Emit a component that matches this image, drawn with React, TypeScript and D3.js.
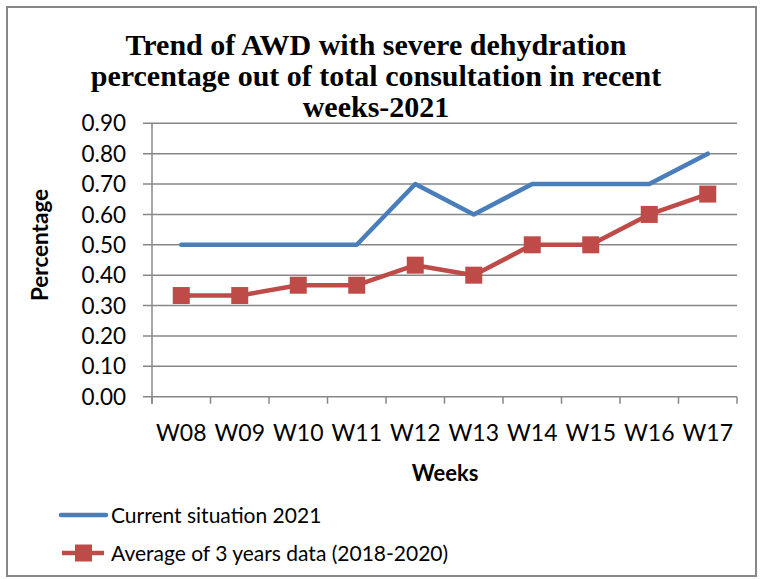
import * as d3 from 'd3';
import React from 'react';

const weeks = ['W08', 'W09', 'W10', 'W11', 'W12', 'W13', 'W14', 'W15', 'W16', 'W17'];
const current2021 = [0.5, 0.5, 0.5, 0.5, 0.7, 0.6, 0.7, 0.7, 0.7, 0.8];
const avg3Years = [0.333, 0.333, 0.367, 0.367, 0.433, 0.4, 0.5, 0.5, 0.6, 0.667];
const yTicks = [0, 0.1, 0.2, 0.3, 0.4, 0.5, 0.6, 0.7, 0.8, 0.9];
const titleLines = [
    'Trend of AWD with severe dehydration',
    'percentage out of total consultation in recent',
    'weeks-2021',
];
const seriesNames = ['Current situation 2021', 'Average of 3 years data (2018-2020)'];

const blue = '#4a7ebb';
const red = '#be4b48';
const grid = '#878787';
const sans = 'Lato, "Open Sans", sans-serif';

export default function App() {
    // positions and dimensions
    const width = 762;
    const height = 579;
    const plot = { left: 152, right: 737, top: 123.3, bottom: 396.7 };

    const xrange = d3.scaleBand<string>()
        .domain(weeks)
        .range([plot.left, plot.right]);

    const yrange = d3.scaleLinear()
        .domain([0, 0.9])
        .range([plot.bottom, plot.top]);

    const cx = (i: number) => (xrange(weeks[i]) as number) + xrange.bandwidth() / 2;

    const line = d3.line<number>()
        .x((d, i) => cx(i))
        .y(d => yrange(d));

    const tickEdges = weeks.map(w => xrange(w) as number).concat([plot.right]);

    return (
        <svg width={width} height={height} style={{ position: 'absolute', left: 0, top: 0, background: 'white' }}>
            <rect x={7} y={7} width={749} height={569} fill="white" stroke={grid} strokeWidth={2} />

            {/* gridlines + y ticks */}
            {yTicks.map(t => (
                <g key={t}>
                    <line x1={plot.left - 9} x2={plot.right} y1={yrange(t)} y2={yrange(t)} stroke={grid} strokeWidth={1.5} />
                    <text x={126} y={yrange(t)} dy="0.36em" textAnchor="end" fontFamily={sans} fontSize={22.5} fill="black">
                        {t.toFixed(2)}
                    </text>
                </g>
            ))}

            {/* y axis line */}
            <line x1={plot.left} x2={plot.left} y1={plot.top} y2={plot.bottom + 7} stroke={grid} strokeWidth={1.5} />

            {/* x ticks */}
            {tickEdges.map((x, i) => (
                <line key={i} x1={x} x2={x} y1={plot.bottom} y2={plot.bottom + 7} stroke={grid} strokeWidth={1.5} />
            ))}
            {weeks.map((w, i) => (
                <text key={w} x={cx(i)} y={433} dy="0.36em" textAnchor="middle" fontFamily={sans} fontSize={23} fill="black">
                    {w}
                </text>
            ))}

            {/* axis titles */}
            <text x={445} y={473} dy="0.36em" textAnchor="middle" fontFamily={sans} fontWeight="bold" fontSize={22} fill="black">
                Weeks
            </text>
            <text transform={`translate(40,${(plot.top + plot.bottom) / 2 - 15})rotate(-90)`} dy="0.36em" textAnchor="middle"
                fontFamily={sans} fontWeight="bold" fontSize={22.5} fill="black">
                Percentage
            </text>

            {/* title */}
            {titleLines.map((t, i) => (
                <text key={i} x={376} y={55 + i * 31} textAnchor="middle" fontFamily='"Liberation Serif", "Times New Roman", serif'
                    fontWeight="bold" fontSize={30} fill="black">
                    {t}
                </text>
            ))}

            {/* series */}
            <path d={line(current2021) || ''} fill="none" stroke={blue} strokeWidth={4.5} strokeLinejoin="round" strokeLinecap="round" />
            <path d={line(avg3Years) || ''} fill="none" stroke={red} strokeWidth={4.5} strokeLinejoin="round" />
            {avg3Years.map((d, i) => (
                <rect key={i} x={cx(i) - 8.5} y={yrange(d) - 8.5} width={17} height={17} fill={red} />
            ))}

            {/* legend */}
            <line x1={61} x2={106} y1={515} y2={515} stroke={blue} strokeWidth={4.5} strokeLinecap="round" />
            <text x={111} y={515} dy="0.36em" fontFamily={sans} fontSize={21} fill="black">{seriesNames[0]}</text>
            <line x1={62} x2={104} y1={553} y2={553} stroke={red} strokeWidth={4.5} />
            <rect x={75} y={544.5} width={17} height={17} fill={red} />
            <text x={111} y={553} dy="0.36em" fontFamily={sans} fontSize={21} fill="black">{seriesNames[1]}</text>
        </svg>
    );
}
